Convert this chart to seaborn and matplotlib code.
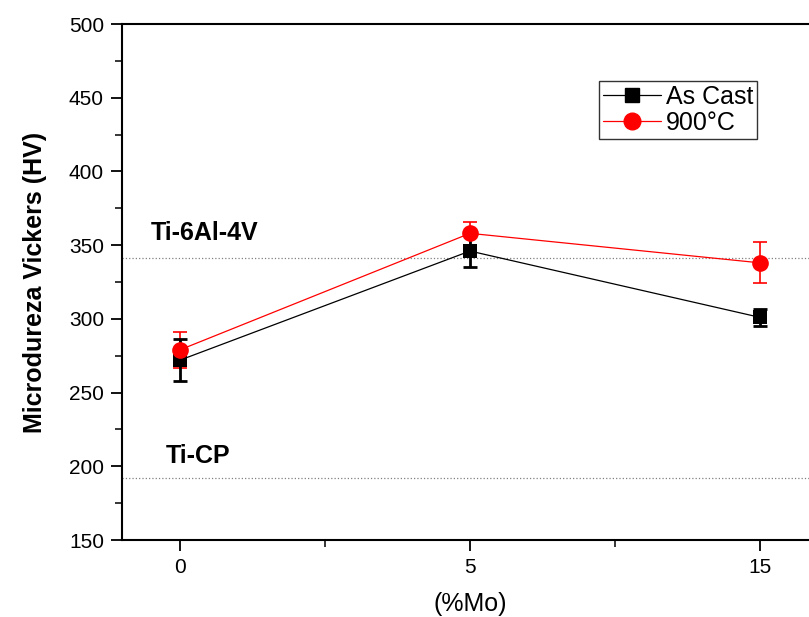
import numpy as np
import pandas as pd
import matplotlib
matplotlib.use("Agg")
import matplotlib.pyplot as plt
import seaborn as sns
from matplotlib.ticker import MultipleLocator, FixedLocator
from matplotlib.lines import Line2D

# data
mo_labels = ["0", "5", "15"]
as_cast = [272, 346, 301]
as_cast_err = [14, 11, 6]
t900 = [279, 358, 338]
t900_err = [12, 8, 14]
ref_names = ["Ti-6Al-4V", "Ti-CP"]
ref_values = [341, 192]

sns.set_style("ticks")
plt.rcParams["font.family"] = ["Liberation Sans", "DejaVu Sans"]
plt.rcParams["text.color"] = "black"
plt.rcParams["axes.labelcolor"] = "black"

df = pd.DataFrame({
    "pos": list(range(len(mo_labels))) * 2,
    "hv": as_cast + t900,
    "serie": ["As Cast"] * 3 + ["900°C"] * 3,
})

fig = plt.figure(figsize=(8.09, 6.17), dpi=100)
ax = fig.add_axes([122 / 809, 77 / 617, 696 / 809, 516 / 617])

palette = {"As Cast": "black", "900°C": "red"}
sns.lineplot(data=df, x="pos", y="hv", hue="serie", style="serie",
             markers={"As Cast": "s", "900°C": "o"}, dashes=False,
             palette=palette, linewidth=0.9, markersize=10, markeredgewidth=0,
             ax=ax, legend=False)

# red first so black sits on top like the reference
ax.errorbar(range(3), t900, yerr=t900_err, fmt="none", ecolor="red",
            elinewidth=1.2, capsize=5, capthick=1.2, zorder=1)
ax.errorbar(range(3), as_cast, yerr=as_cast_err, fmt="none", ecolor="black",
            elinewidth=2, capsize=5, capthick=2, zorder=1)

# red circles a bit bigger
ax.lines[1].set_markersize(12)

for v in ref_values:
    ax.axhline(v, color="gray", linestyle=":", linewidth=0.9, zorder=0)
ax.text(-0.1, 358, ref_names[0], fontsize=18, fontweight="bold", va="center")
ax.text(-0.05, 207, ref_names[1], fontsize=18, fontweight="bold", va="center")

ax.set_xlim(-0.2, 2.2)
ax.set_ylim(150, 500)
ax.xaxis.set_major_locator(FixedLocator([0, 1, 2]))
ax.set_xticklabels(mo_labels)
ax.xaxis.set_minor_locator(FixedLocator([0.5, 1.5]))
ax.yaxis.set_major_locator(MultipleLocator(50))
ax.yaxis.set_minor_locator(MultipleLocator(25))

for side in ["left", "right", "top", "bottom"]:
    ax.spines[side].set_visible(True)
    ax.spines[side].set_linewidth(1.5)
    ax.spines[side].set_color("black")

ax.tick_params(axis="both", which="major", direction="out", length=8, width=1.3,
               labelsize=15, colors="black", pad=5)
ax.tick_params(axis="both", which="minor", direction="out", length=5, width=1.3)
ax.tick_params(axis="y", right=True, which="both")

ax.set_xlabel("(%Mo)", fontsize=18, labelpad=11)
ax.set_ylabel("Microdureza Vickers (HV)", fontsize=18, fontweight="bold", labelpad=16)

handles = [
    Line2D([], [], color="black", marker="s", linewidth=0.9, markersize=10),
    Line2D([], [], color="red", marker="o", linewidth=0.9, markersize=12),
]
leg = ax.legend(handles, ["As Cast", "900°C"], loc="upper left",
                bbox_to_anchor=(0.686, 0.89), fontsize=18, frameon=True,
                fancybox=False, edgecolor="black", handlelength=2.3,
                handletextpad=0.2, borderpad=0.15, labelspacing=0.1,
                borderaxespad=0)
leg.get_frame().set_linewidth(1.0)

fig.savefig("out.png", dpi=100)
